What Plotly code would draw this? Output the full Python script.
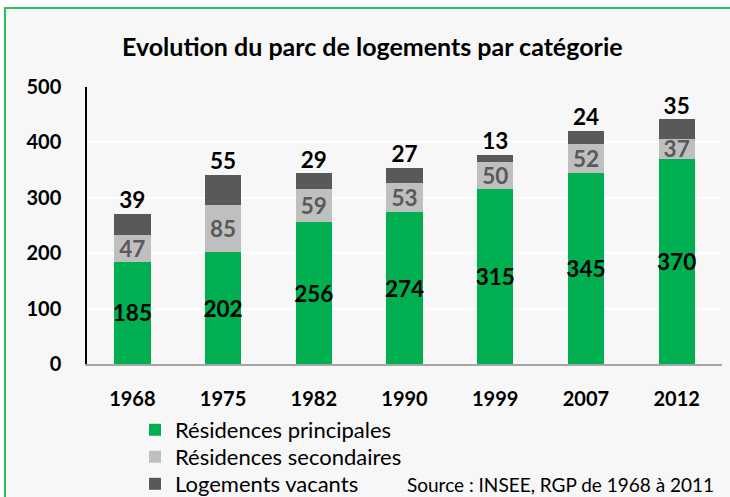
import plotly.graph_objects as go

years = ["1968", "1975", "1982", "1990", "1999", "2007", "2012"]
principales = [185, 202, 256, 274, 315, 345, 370]
secondaires = [47, 85, 59, 53, 50, 52, 37]
vacants = [39, 55, 29, 27, 13, 24, 35]
totals = [a + b + c for a, b, c in zip(principales, secondaires, vacants)]

FONT = "Lato"
W, H = 730, 497
L, R, T, B = 87, 8, 87, 133
PW, PH = W - L - R, H - T - B

def px_x(px):
    return (px - L) / PW

def px_y(py):
    return (H - B - py) / PH

LBL = 22.5

fig = go.Figure()
fig.add_trace(go.Bar(
    x=years, y=principales, name="Résidences principales",
    marker=dict(color="#00b050", line=dict(width=0)),
    text=principales, textposition="inside", insidetextanchor="middle",
    constraintext="none", textangle=0,
    textfont=dict(family=FONT, size=LBL, color="black", weight="bold"),
    legend="legend",
))
fig.add_trace(go.Bar(
    x=years, y=secondaires, name="Résidences secondaires",
    marker=dict(color="#bfbfbf", line=dict(width=0)),
    text=secondaires, textposition="inside", insidetextanchor="middle",
    constraintext="none", textangle=0,
    textfont=dict(family=FONT, size=LBL, color="#595959", weight="bold"),
    legend="legend2",
))
fig.add_trace(go.Bar(
    x=years, y=vacants, name="Logements vacants",
    marker=dict(color="#595959", line=dict(width=0)),
    legend="legend3",
))
fig.add_trace(go.Scatter(
    x=years, y=totals, mode="text", text=vacants,
    textposition="top center", showlegend=False, hoverinfo="skip",
    textfont=dict(family=FONT, size=LBL, color="black", weight="bold"),
))

def leg(ypx):
    return dict(x=px_x(135), y=px_y(ypx), xanchor="left", yanchor="middle",
                orientation="v", bgcolor="rgba(0,0,0,0)",
                font=dict(family=FONT, size=22, color="black"))

fig.update_layout(
    width=W, height=H,
    margin=dict(l=L, r=R, t=T, b=B, autoexpand=False),
    barmode="stack", bargap=0.6,
    paper_bgcolor="white", plot_bgcolor="#f7f7f7",
    font=dict(family=FONT, color="black"),
    title=dict(text="Evolution du parc de logements par catégorie",
               x=0.51, xanchor="center", y=1 - 47 / H, yanchor="middle",
               font=dict(family=FONT, size=25, color="black", weight="bold")),
    legend=leg(430), legend2=leg(457), legend3=leg(484),
    showlegend=True,
    shapes=[dict(type="rect", xref="paper", yref="paper",
                 x0=px_x(5), x1=px_x(740), y0=px_y(520), y1=px_y(8),
                 line=dict(color="#2dbe5f", width=2), fillcolor="#f7f7f7",
                 layer="below")],
    annotations=[dict(text="Source : INSEE, RGP de 1968 à 2011",
                      xref="paper", yref="paper", x=px_x(716), y=px_y(484),
                      xanchor="right", yanchor="middle", showarrow=False,
                      font=dict(family=FONT, size=19, color="black"))],
)
fig.update_yaxes(range=[0, 500], dtick=100, showgrid=True, gridcolor="white",
                 gridwidth=1.5, zeroline=False, showline=True, linecolor="black",
                 linewidth=1.5, ticks="", ticklabelstandoff=20,
                 tickfont=dict(family=FONT, size=20, color="black", weight="bold"))
fig.update_xaxes(showline=True, linecolor="#a6a6a6", linewidth=1.5, ticks="",
                 ticklabelstandoff=16,
                 tickfont=dict(family=FONT, size=20, color="black", weight="bold"))

fig.write_html("out.html",
               config={"displayModeBar": False},
               post_script="document.body.style.margin='0';"
                           "document.body.style.overflow='hidden';")
